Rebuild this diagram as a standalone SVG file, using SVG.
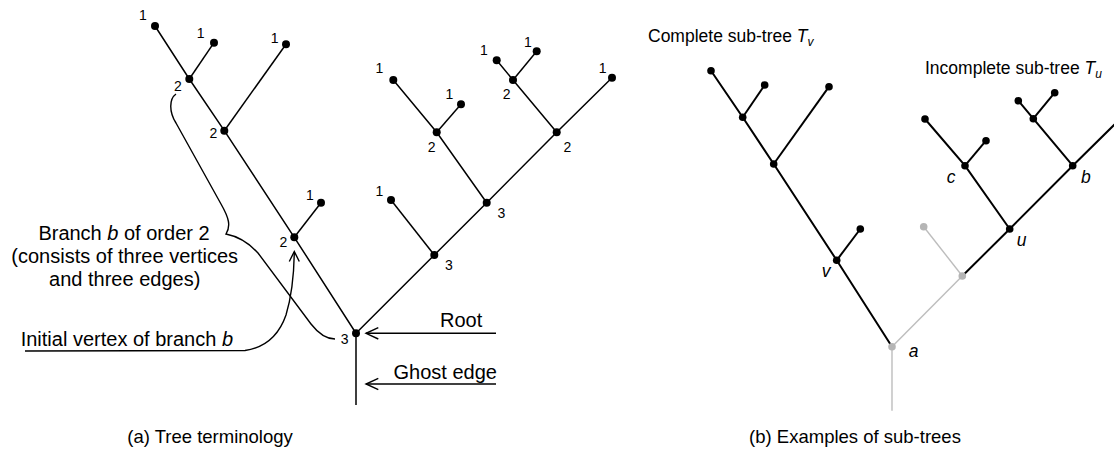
<svg xmlns="http://www.w3.org/2000/svg" width="1114" height="457" viewBox="0 0 1114 457">
<style>
text{font-family:"Liberation Sans",Arial,sans-serif;fill:#000}
.num{font-size:14px;text-anchor:middle}
.lbl{font-size:20px}
.ttl{font-size:17.5px}
.cap{font-size:18.5px;text-anchor:middle}
.it{font-style:italic}
.e{stroke:#000;stroke-width:1.5;fill:none}
.eb{stroke:#000;stroke-width:2;fill:none}
.eg{stroke:#bdbdbd;stroke-width:1.4;fill:none}
.d{fill:#000}
.dg{fill:#b5b5b5}
.ann{stroke:#000;stroke-width:1.4;fill:none}
</style>
<g id="tree-a-edges">
<polyline class="e" points="356,405 356,333.3 294.3,237.3 224.3,130.7 189.3,79 155,26"/>
<line class="e" x1="294.3" y1="237.3" x2="321" y2="202.7"/>
<line class="e" x1="224.3" y1="130.7" x2="286" y2="44.3"/>
<line class="e" x1="189.3" y1="79" x2="214" y2="42.7"/>
<polyline class="e" points="356,333.3 434.3,255 486.7,202.7 556.7,132.3 612,77.7"/>
<line class="e" x1="434.3" y1="255" x2="391" y2="200"/>
<polyline class="e" points="486.7,202.7 436.7,132.3 393.3,80"/>
<line class="e" x1="436.7" y1="132.3" x2="461" y2="104.3"/>
<polyline class="e" points="556.7,132.3 513,80 496.7,60.3"/>
<line class="e" x1="513" y1="80" x2="536.7" y2="51.3"/>
</g>
<g id="tree-a-nodes">
<circle class="d" cx="356" cy="333.3" r="4"/>
<circle class="d" cx="294.3" cy="237.3" r="4"/>
<circle class="d" cx="224.3" cy="130.7" r="4"/>
<circle class="d" cx="189.3" cy="79" r="4"/>
<circle class="d" cx="155" cy="26" r="4"/>
<circle class="d" cx="321" cy="202.7" r="4"/>
<circle class="d" cx="286" cy="44.3" r="4"/>
<circle class="d" cx="214" cy="42.7" r="4"/>
<circle class="d" cx="434.3" cy="255" r="4"/>
<circle class="d" cx="486.7" cy="202.7" r="4"/>
<circle class="d" cx="556.7" cy="132.3" r="4"/>
<circle class="d" cx="612" cy="77.7" r="4"/>
<circle class="d" cx="391" cy="200" r="4"/>
<circle class="d" cx="436.7" cy="132.3" r="4"/>
<circle class="d" cx="393.3" cy="80" r="4"/>
<circle class="d" cx="461" cy="104.3" r="4"/>
<circle class="d" cx="513" cy="80" r="4"/>
<circle class="d" cx="496.7" cy="60.3" r="4"/>
<circle class="d" cx="536.7" cy="51.3" r="4"/>
</g>
<g id="tree-a-orders">
<text class="num" x="143" y="20">1</text>
<text class="num" x="200.7" y="37.7">1</text>
<text class="num" x="274.7" y="43.3">1</text>
<text class="num" x="178" y="91">2</text>
<text class="num" x="213.3" y="138.3">2</text>
<text class="num" x="310" y="200">1</text>
<text class="num" x="283.3" y="247.3">2</text>
<text class="num" x="379.3" y="196">1</text>
<text class="num" x="449" y="270">3</text>
<text class="num" x="501.4" y="217.7">3</text>
<text class="num" x="344.7" y="344.3">3</text>
<text class="num" x="379.3" y="73.3">1</text>
<text class="num" x="431.7" y="151.7">2</text>
<text class="num" x="449.3" y="99.3">1</text>
<text class="num" x="484" y="55">1</text>
<text class="num" x="506.7" y="99">2</text>
<text class="num" x="528" y="46.7">1</text>
<text class="num" x="567.3" y="151.7">2</text>
<text class="num" x="602.7" y="73.3">1</text>
</g>
<g id="annotations-a">
<path class="ann" d="M176,94 C169,99 169,112 176,123 L221,204 C229,218 231,226 226,234 C236,236 248,242 258,253 L311,324 C318,333 325,339 335,339"/>
<path class="ann" d="M25,351 L245,350.5 C262,348 278,338 286,315 C292,295 294,275 294.3,252"/>
<polyline class="ann" points="289.3,261.5 294.3,251.5 299.3,261.5"/>
<line class="ann" x1="366" y1="333.3" x2="496" y2="333.3"/>
<polyline class="ann" points="378.3,327.6 366,333.3 378.3,339"/>
<line class="ann" x1="366" y1="384" x2="496" y2="384"/>
<polyline class="ann" points="378.3,378.3 366,384 378.3,389.7"/>
<text class="lbl" x="124" y="239.5" text-anchor="middle">Branch <tspan class="it">b</tspan> of order 2</text>
<text class="lbl" x="124.7" y="262.5" text-anchor="middle">(consists of three vertices</text>
<text class="lbl" x="124.7" y="286" text-anchor="middle">and three edges)</text>
<text class="lbl" x="20.7" y="345.5">Initial vertex of branch <tspan class="it">b</tspan></text>
<text class="lbl" x="440" y="326.7">Root</text>
<text class="lbl" x="393.5" y="379.3">Ghost edge</text>
</g>
<g id="tree-b-edges">
<line class="eg" x1="892" y1="346.7" x2="892" y2="410.7"/>
<line class="eg" x1="892" y1="346.7" x2="962.3" y2="276"/>
<line class="eg" x1="962.3" y1="276" x2="923.7" y2="226.7"/>
<polyline class="eb" points="892,346.7 836.7,260.3 773.7,164 742.7,117.3 711,70.7"/>
<line class="eb" x1="836.7" y1="260.3" x2="860.3" y2="229"/>
<line class="eb" x1="773.7" y1="164" x2="829" y2="86.7"/>
<line class="eb" x1="742.7" y1="117.3" x2="764.7" y2="85"/>
<polyline class="eb" points="962.3,276 1009.7,229 1072.7,165.7 1122.5,116.6"/>
<polyline class="eb" points="1009.7,229 965,165.7 925,119"/>
<line class="eb" x1="965" y1="165.7" x2="986" y2="140.7"/>
<polyline class="eb" points="1072.7,165.7 1033.3,118.7 1018.3,100.7"/>
<line class="eb" x1="1033.3" y1="118.7" x2="1054.7" y2="92.7"/>
</g>
<g id="tree-b-nodes">
<circle class="dg" cx="892" cy="346.7" r="3.8"/>
<circle class="dg" cx="962.3" cy="276" r="3.8"/>
<circle class="dg" cx="923.7" cy="226.7" r="3.8"/>
<circle class="d" cx="836.7" cy="260.3" r="3.8"/>
<circle class="d" cx="773.7" cy="164" r="3.8"/>
<circle class="d" cx="742.7" cy="117.3" r="3.8"/>
<circle class="d" cx="711" cy="70.7" r="3.8"/>
<circle class="d" cx="860.3" cy="229" r="3.8"/>
<circle class="d" cx="829" cy="86.7" r="3.8"/>
<circle class="d" cx="764.7" cy="85" r="3.8"/>
<circle class="d" cx="1009.7" cy="229" r="3.8"/>
<circle class="d" cx="965" cy="165.7" r="3.8"/>
<circle class="d" cx="925" cy="119" r="3.8"/>
<circle class="d" cx="986" cy="140.7" r="3.8"/>
<circle class="d" cx="1072.7" cy="165.7" r="3.8"/>
<circle class="d" cx="1033.3" cy="118.7" r="3.8"/>
<circle class="d" cx="1018.3" cy="100.7" r="3.8"/>
<circle class="d" cx="1054.7" cy="92.7" r="3.8"/>
</g>
<g id="tree-b-labels">
<text class="ttl" x="648" y="41.7">Complete sub-tree <tspan class="it">T</tspan><tspan class="it" font-size="12" dy="4">v</tspan></text>
<text class="ttl" x="925" y="74">Incomplete sub-tree <tspan class="it">T</tspan><tspan class="it" font-size="12" dy="4">u</tspan></text>
<text class="ttl it" x="946.7" y="183.3">c</text>
<text class="ttl it" x="1081" y="183.3">b</text>
<text class="ttl it" x="1016.7" y="246">u</text>
<text class="ttl it" x="821.7" y="276.7">v</text>
<text class="ttl it" x="908.7" y="356.7">a</text>
</g>
<g id="captions">
<text class="cap" x="210" y="443">(a) Tree terminology</text>
<text class="cap" x="855" y="443">(b) Examples of sub-trees</text>
</g>
</svg>
